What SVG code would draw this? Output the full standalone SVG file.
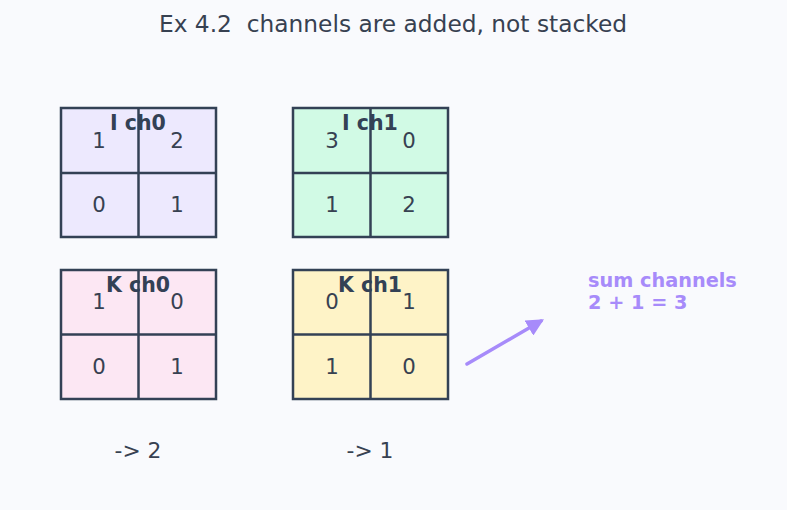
<svg xmlns="http://www.w3.org/2000/svg" width="787" height="510" viewBox="0 0 787 510">
<defs>
<style>
text{font-family:"DejaVu Sans",sans-serif;fill:#374151;white-space:pre}
.title{font-size:23.3px;text-anchor:middle}
.cell{stroke:#334155;stroke-width:2.5}
.num{font-size:21.3px;text-anchor:middle}
.lbl{font-size:20.5px;font-weight:bold;text-anchor:middle;fill:#334155}
.res{font-size:21.8px;text-anchor:middle}
.note{font-size:19.3px;font-weight:bold;fill:#a78bfa}
</style>
<marker id="ah" viewBox="0 0 10 10" refX="8" refY="5" markerWidth="5" markerHeight="5" orient="auto"><path d="M0,0 L10,5 L0,10 z" fill="#a78bfa"/></marker>
</defs>
<rect width="787" height="510" fill="#f9fafd"/>
<text class="title" x="393" y="32" xml:space="preserve">Ex 4.2  channels are added, not stacked</text>

<g id="I_ch0">
<rect class="cell" x="61" y="108" width="155" height="129" fill="#ede9fe"/>
<line class="cell" x1="138.5" y1="108" x2="138.5" y2="237"/>
<line class="cell" x1="61" y1="173" x2="216" y2="173"/>
<text class="num" x="99" y="147.5">1</text><text class="num" x="177" y="147.5">2</text>
<text class="num" x="99" y="211.5">0</text><text class="num" x="177" y="211.5">1</text>
<text class="lbl" x="138" y="130">I ch0</text>
</g>
<g id="I_ch1">
<rect class="cell" x="293" y="108" width="155" height="129" fill="#d1fae5"/>
<line class="cell" x1="370.5" y1="108" x2="370.5" y2="237"/>
<line class="cell" x1="293" y1="173" x2="448" y2="173"/>
<text class="num" x="332" y="147.5">3</text><text class="num" x="409" y="147.5">0</text>
<text class="num" x="332" y="211.5">1</text><text class="num" x="409" y="211.5">2</text>
<text class="lbl" x="370" y="130">I ch1</text>
</g>
<g id="K_ch0">
<rect class="cell" x="61" y="270" width="155" height="129" fill="#fce7f3"/>
<line class="cell" x1="138.5" y1="270" x2="138.5" y2="399"/>
<line class="cell" x1="61" y1="334.5" x2="216" y2="334.5"/>
<text class="num" x="99" y="308.5">1</text><text class="num" x="177" y="308.5">0</text>
<text class="num" x="99" y="373.5">0</text><text class="num" x="177" y="373.5">1</text>
<text class="lbl" x="138" y="292">K ch0</text>
</g>
<g id="K_ch1">
<rect class="cell" x="293" y="270" width="155" height="129" fill="#fef3c7"/>
<line class="cell" x1="370.5" y1="270" x2="370.5" y2="399"/>
<line class="cell" x1="293" y1="334.5" x2="448" y2="334.5"/>
<text class="num" x="332" y="308.5">0</text><text class="num" x="409" y="308.5">1</text>
<text class="num" x="332" y="373.5">1</text><text class="num" x="409" y="373.5">0</text>
<text class="lbl" x="370" y="292">K ch1</text>
</g>
<g id="results">
<text class="res" x="138" y="458">-&gt; 2</text>
<text class="res" x="370" y="458">-&gt; 1</text>
</g>
<g id="connectors">
<line x1="467" y1="364" x2="541" y2="321" stroke="#a78bfa" stroke-width="3.5" stroke-linecap="round" marker-end="url(#ah)"/>
</g>
<g id="note">
<text class="note" x="588" y="287">sum channels</text>
<text class="note" x="588" y="309">2 + 1 = 3</text>
</g>
</svg>
